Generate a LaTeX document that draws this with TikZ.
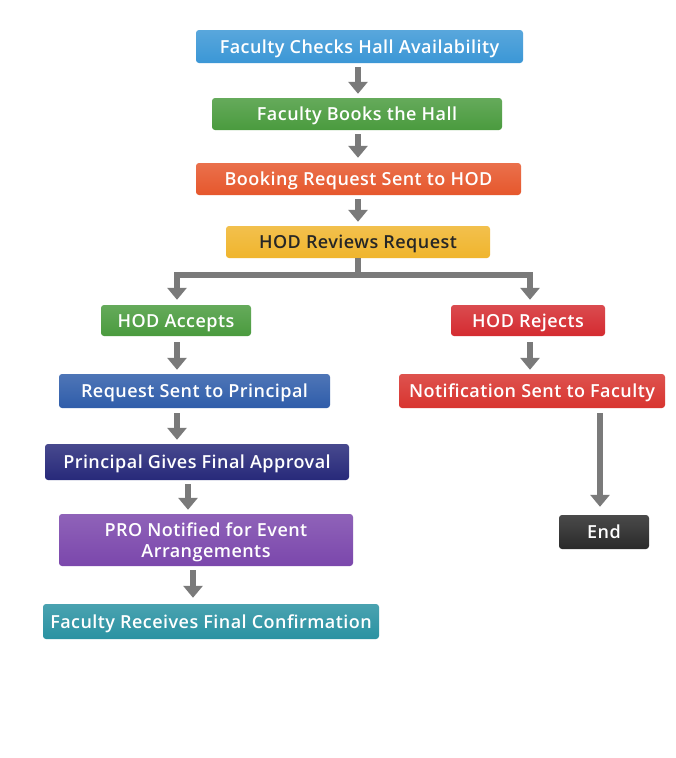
\documentclass[tikz,border=0pt]{standalone}
\usepackage{fontspec}
\setmainfont{Open Sans}[UprightFont={* Semibold}, LetterSpace=2.5]
\usetikzlibrary{arrows.meta}
\definecolor{cblue}{HTML}{3B97D6}
\definecolor{cgreen}{HTML}{4A9B3E}
\definecolor{corange}{HTML}{E6572C}
\definecolor{cyellow}{HTML}{F0B52D}
\definecolor{cred}{HTML}{D42B30}
\definecolor{cred2}{HTML}{D8342F}
\definecolor{cblue2}{HTML}{2F5DAA}
\definecolor{cnavy}{HTML}{27297A}
\definecolor{cpurple}{HTML}{7B47AC}
\definecolor{cdark}{HTML}{2A2A2A}
\definecolor{cteal}{HTML}{2A92A2}
\definecolor{carrow}{HTML}{7A7A7A}
\begin{document}
\begin{tikzpicture}[x=1pt,y=-1pt,
  box/.style={rectangle, rounded corners=3pt, inner sep=0pt, text=white,
    font=\fontsize{18}{21}\selectfont, align=center, draw=none, text depth=0pt,
    top color=#1!85!white, bottom color=#1},
  arr/.style={draw=carrow, line width=6pt, -{Triangle[length=12pt,width=19pt]}},
  seg/.style={draw=carrow, line width=6pt}]
\fill[white] (0,0) rectangle (676,758);
\useasboundingbox (0,0) rectangle (676,758);
\node[box=cblue, minimum width=327pt, minimum height=33pt] (n1) at (359.5,46.5) {Faculty Checks Hall Availability};
\node[box=cgreen, minimum width=290pt, minimum height=32pt] (n2) at (357,114) {Faculty Books the Hall};
\node[box=corange, minimum width=325pt, minimum height=32pt] (n3) at (358.5,179) {Booking Request Sent to HOD};
\node[box=cyellow, text=black!85, minimum width=264pt, minimum height=32pt] (n4) at (358,242) {HOD Reviews Request};
\node[box=cgreen, minimum width=150pt, minimum height=31pt] (n5) at (176,320.5) {HOD Accepts};
\node[box=cred, minimum width=154pt, minimum height=31pt] (n6) at (528,320.5) {HOD Rejects};
\node[box=cblue2, minimum width=271pt, minimum height=34pt] (n7) at (194.5,391) {Request Sent to Principal};
\node[box=cred2, minimum width=266pt, minimum height=34pt] (n8) at (532,391) {Notification Sent to Faculty};
\node[box=cnavy, minimum width=304pt, minimum height=36pt] (n9) at (197,462) {Principal Gives Final Approval};
\node[box=cpurple, minimum width=294pt, minimum height=52pt, font=\fontsize{18}{21}\selectfont] (n10) at (206,540) {PRO Notified for Event\\Arrangements};
\node[box=cdark, minimum width=90pt, minimum height=34pt] (n11) at (604,532) {End};
\node[box=cteal, minimum width=336pt, minimum height=35pt] (n12) at (211,621.5) {Faculty Receives Final Confirmation};
% connector axes
\coordinate (xm) at (358,0);
\coordinate (xl) at (177,0);
\coordinate (xr) at (530,0);
\coordinate (x9) at (188,0);
\coordinate (x10) at (193,0);
\coordinate (x8) at (600,0);
\coordinate (j) at (358,275);
\coordinate (jl) at (177,275);
\coordinate (jr) at (530,275);
\draw[arr] ([yshift=-4pt]n1.south -| xm) -- ([yshift=4pt]n2.north -| xm);
\draw[arr] ([yshift=-4pt]n2.south -| xm) -- ([yshift=5pt]n3.north -| xm);
\draw[arr] ([yshift=-4pt]n3.south -| xm) -- ([yshift=4pt]n4.north -| xm);
\draw[seg] (n4.south -| j) -- (j);
\draw[seg] ([xshift=-3pt]jl) -- ([xshift=3pt]jr);
\draw[arr] (jl) -- ([yshift=5pt]n5.north -| jl);
\draw[arr] (jr) -- ([yshift=5pt]n6.north -| jr);
\draw[arr] ([yshift=-6pt]n5.south -| xl) -- ([yshift=4pt]n7.north -| xl);
\draw[arr] ([yshift=-6pt]n6.south -| xr) -- ([yshift=4pt]n8.north -| xr);
\draw[arr] ([yshift=-5pt]n7.south -| xl) -- ([yshift=4pt]n9.north -| xl);
\draw[arr] ([yshift=-4pt]n9.south -| x9) -- ([yshift=4pt]n10.north -| x9);
\draw[arr] ([yshift=-5pt]n8.south -| x8) -- ([yshift=8pt]n11.north -| x8);
\draw[arr] ([yshift=-4pt]n10.south -| x10) -- ([yshift=6pt]n12.north -| x10);
\end{tikzpicture}
\end{document}
